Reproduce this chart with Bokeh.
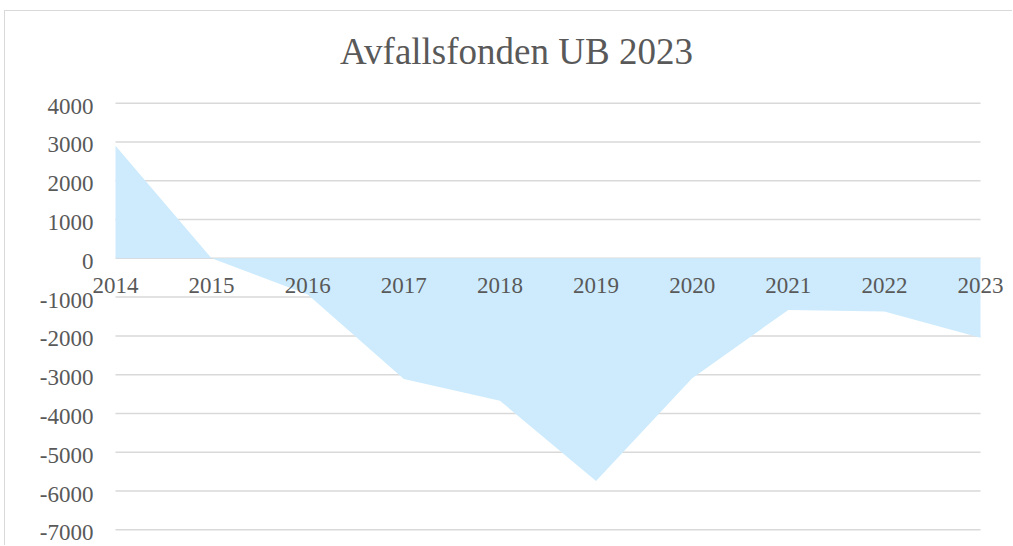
from bokeh.plotting import figure
from bokeh.models import Range1d, Label
from bokeh.core.properties import value
from bokeh.embed import file_html
from bokeh.resources import INLINE

title_text = "Avfallsfonden UB 2023"
years = [2014, 2015, 2016, 2017, 2018, 2019, 2020, 2021, 2022, 2023]
values = [2900, 0, -930, -3110, -3670, -5740, -3090, -1330, -1370, -2050]
y_ticks = [-7000, -6000, -5000, -4000, -3000, -2000, -1000, 0, 1000, 2000, 3000, 4000]
year_labels = [str(y) for y in years]
y_tick_labels = [str(t) for t in y_ticks]

FONT = "Liberation Serif"
TXT = "#595959"

# ---- layout (pixels, page coordinates) ----
PAGE_X0, PAGE_Y0 = 5, 11          # canvas origin (after border/margin)
CANVAS_W, CANVAS_H = 1008, 535
CAT_LEFT_PX, CAT_RIGHT_PX = 115, 980
Y_TOP_PX, Y_BOT_PX = 102.7, 529.3  # pixel rows of top / bottom tick

step_px = (CAT_RIGHT_PX - CAT_LEFT_PX) / (len(years) - 1)
x_start = years[0] - (CAT_LEFT_PX - PAGE_X0) / step_px
x_end = years[0] + (PAGE_X0 + CANVAS_W - CAT_LEFT_PX) / step_px

px_per_unit = (Y_BOT_PX - Y_TOP_PX) / (y_ticks[-1] - y_ticks[0])
def px_to_val(py):
    return y_ticks[-1] - (py - Y_TOP_PX) / px_per_unit
y_top = px_to_val(PAGE_Y0)
y_bot = px_to_val(PAGE_Y0 + CANVAS_H)

p = figure(width=CANVAS_W, height=CANVAS_H, output_backend="svg", toolbar_location=None,
           x_range=Range1d(x_start, x_end), y_range=Range1d(y_bot, y_top),
           x_axis_location=None, y_axis_location=None,
           min_border_left=0, min_border_right=0,
           min_border_top=0, min_border_bottom=0)
p.styles = {"margin-left": "4px", "margin-top": "10px",
            "border-left": "1px solid #d9d9d9", "border-top": "1px solid #d9d9d9"}
p.outline_line_color = None
p.background_fill_color = "white"
p.border_fill_color = "white"
p.xgrid.visible = False
p.ygrid.visible = False

# horizontal gridlines across the category span
n = len(y_ticks)
p.segment(x0=[years[0]] * n, x1=[years[-1]] * n, y0=y_ticks, y1=y_ticks,
          line_color="#d9d9d9", line_width=1.5)

# area
p.varea(x=years, y1=[0] * len(years), y2=values, fill_color="#cdebfd")

# y tick labels
p.text(x=[years[0]] * n, y=y_ticks, text=y_tick_labels, x_offset=-22, y_offset=3,
       text_align="right", text_baseline="middle",
       text_font=value(FONT), text_font_size="23px", text_color=TXT)

# category labels placed just below the zero line
p.text(x=years, y=[0] * len(years), text=year_labels, y_offset=27,
       text_align="center", text_baseline="alphabetic",
       text_font=value(FONT), text_font_size="23px", text_color=TXT)

# chart title
title_cx = years[0] + (516 - CAT_LEFT_PX) / step_px
title = Label(x=title_cx, y=px_to_val(51), text=title_text,
              text_align="center", text_baseline="alphabetic",
              text_font=FONT, text_font_size="37px", text_color=TXT)
p.add_layout(title)

open("out.html", "w").write(file_html(p, INLINE))
